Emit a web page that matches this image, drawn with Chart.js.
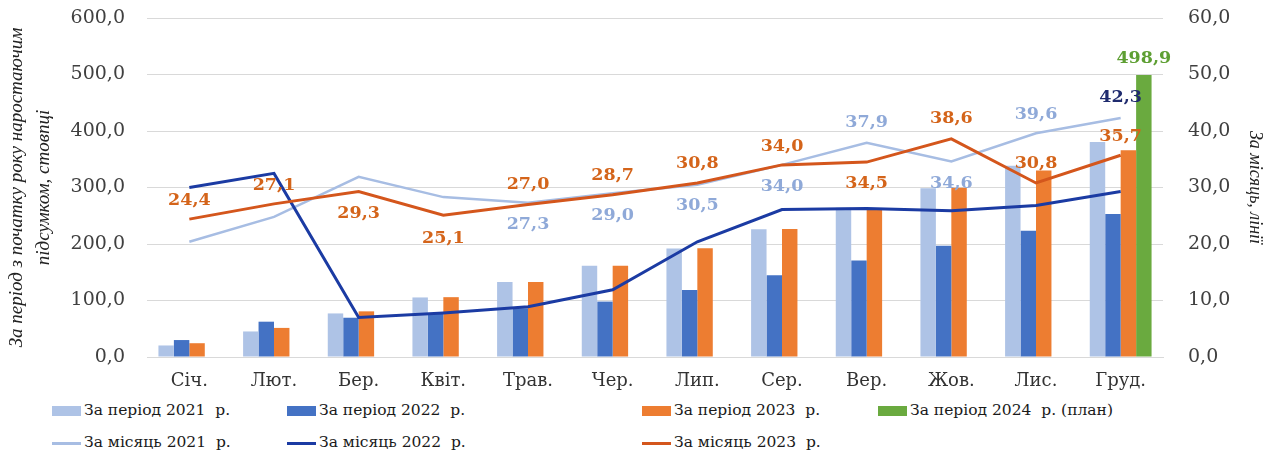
<!DOCTYPE html>
<html lang="uk">
<head>
<meta charset="utf-8">
<script src="https://cdn.jsdelivr.net/npm/chart.js@4.4.1/dist/chart.umd.min.js"></script>
<style>
  html, body { margin: 0; padding: 0; background: #fff; }
  #wrap { position: relative; width: 1280px; height: 455px; overflow: hidden; }
  #chart { position: absolute; left: 0; top: 0; }
  .lg { position: absolute; font: 15.5px "DejaVu Serif", "Liberation Serif", serif; color: #1a1a1a; white-space: pre; height: 20px; line-height: 20px; }
  .lg span.mk { display: inline-block; width: 29px; vertical-align: middle; margin-right: 3px; }
</style>
</head>
<body>
<div id="wrap">
  <canvas id="chart" width="1280" height="395"></canvas>
  <div id="legend"></div>
</div>
<script>
const months = ['Січ.', 'Лют.', 'Бер.', 'Квіт.', 'Трав.', 'Чер.', 'Лип.', 'Сер.', 'Вер.', 'Жов.', 'Лис.', 'Груд.'];

// наростаючим підсумком (ліва вісь)
const period2021 = [20.4, 45.2, 77.1, 105.4, 132.7, 161.7, 192.2, 226.2, 264.1, 298.7, 338.3, 380.6];
const period2022 = [30.0, 62.5, 69.5, 77.3, 86.2, 98.1, 118.5, 144.6, 170.9, 196.8, 223.6, 252.9];
const period2023 = [24.4, 51.5, 80.8, 105.9, 132.9, 161.6, 192.4, 226.4, 260.9, 299.5, 330.3, 366.0];
const period2024 = [null, null, null, null, null, null, null, null, null, null, null, 498.9];

// за місяць (права вісь)
const month2021 = [20.4, 24.8, 31.9, 28.3, 27.3, 29.0, 30.5, 34.0, 37.9, 34.6, 39.6, 42.3];
const month2022 = [30.0, 32.5, 7.0, 7.8, 8.9, 11.9, 20.4, 26.1, 26.3, 25.9, 26.8, 29.3];
const month2023 = [24.4, 27.1, 29.3, 25.1, 27.0, 28.7, 30.8, 34.0, 34.5, 38.6, 30.8, 35.7];

const leftTicks = { min: 0, max: 600, step: 100 };
const rightTicks = { min: 0, max: 60, step: 10 };

const SERIF = '"DejaVu Serif", "Liberation Serif", serif';
const TITLE_FONT = '"Liberation Serif", "Times New Roman", serif';
const fmt = v => v.toFixed(1).replace('.', ',');

// підписи значень: зсув по вертикалі для кожної точки (null - без підпису)
const labelStyle = {
  3: { color: '#5E9F33', dy: [null, null, null, null, null, null, null, null, null, null, null, -17] },
  4: { color: '#8FA9D8', colors: { 11: '#1F2B6E' },
       dy: [null, null, null, null, 22, 22, 21, 22, -20, 22, -19, -21] },
  6: { color: '#D4641A', dy: [-19, -18, 22, 23, -20, -19, -20, -18, 21, -20, -20, -19] }
};

const valueLabels = {
  id: 'valueLabels',
  afterDatasetsDraw(chart) {
    const ctx = chart.ctx;
    ctx.save();
    ctx.textAlign = 'center';
    ctx.textBaseline = 'middle';
    ctx.font = 'bold 17.5px ' + SERIF;
    Object.keys(labelStyle).forEach(k => {
      const di = +k, st = labelStyle[k];
      const ds = chart.data.datasets[di];
      chart.getDatasetMeta(di).data.forEach((el, i) => {
        if (ds.data[i] == null || st.dy[i] == null) return;
        ctx.fillStyle = (st.colors && st.colors[i]) || st.color;
        ctx.fillText(fmt(ds.data[i]), el.x, el.y + st.dy[i]);
      });
    });
    ctx.restore();
  }
};

const noPad = s => { s.paddingTop = 0; s.paddingBottom = 0; };

const ctx = document.getElementById('chart').getContext('2d');
const chart = new Chart(ctx, {
  type: 'bar',
  data: {
    labels: months,
    datasets: [
      { type: 'bar', label: 'За період 2021  р.', data: period2021, backgroundColor: '#AEC3E6', yAxisID: 'y', order: 10 },
      { type: 'bar', label: 'За період 2022  р.', data: period2022, backgroundColor: '#4472C4', yAxisID: 'y', order: 10 },
      { type: 'bar', label: 'За період 2023  р.', data: period2023, backgroundColor: '#ED7D31', yAxisID: 'y', order: 10 },
      { type: 'bar', label: 'За період 2024  р. (план)', data: period2024, backgroundColor: '#6AAA3F', yAxisID: 'y', order: 10 },
      { type: 'line', label: 'За місяць 2021  р.', data: month2021, borderColor: '#A7BDE3', borderWidth: 2.5, yAxisID: 'y1', order: 3 },
      { type: 'line', label: 'За місяць 2022  р.', data: month2022, borderColor: '#1B3BA3', borderWidth: 3, yAxisID: 'y1', order: 2 },
      { type: 'line', label: 'За місяць 2023  р.', data: month2023, borderColor: '#D4561C', borderWidth: 3, yAxisID: 'y1', order: 1 }
    ]
  },
  options: {
    responsive: false,
    animation: false,
    layout: { padding: { top: 18, left: 0, right: 0, bottom: 0 } },
    datasets: {
      bar: { categoryPercentage: 0.73, barPercentage: 1.0 },
      line: { pointRadius: 0, tension: 0, fill: false }
    },
    plugins: { legend: { display: false }, tooltip: { enabled: false } },
    scales: {
      x: {
        grid: { display: false, drawTicks: false },
        border: { color: '#D9D9D9' },
        ticks: { color: '#333', padding: 14, font: { family: SERIF, size: 18 } },
        afterFit: s => { s.height = 38; }
      },
      y: {
        position: 'left',
        min: leftTicks.min, max: leftTicks.max,
        ticks: { stepSize: leftTicks.step, color: '#404040', padding: 22, callback: v => fmt(v),
                 font: { family: SERIF, size: 19 } },
        grid: { color: '#D9D9D9', drawTicks: false },
        border: { display: false },
        title: { display: true, text: ['За період з початку року наростаючим', 'підсумком, стовпці'],
                 color: '#222', padding: { top: 4, bottom: 0 },
                 font: { family: TITLE_FONT, size: 19, style: 'italic', lineHeight: 1.42 } },
        afterFit: s => { s.width = 147; noPad(s); }
      },
      y1: {
        position: 'right',
        min: rightTicks.min, max: rightTicks.max,
        ticks: { stepSize: rightTicks.step, color: '#404040', padding: 25, callback: v => fmt(v),
                 font: { family: SERIF, size: 19 } },
        grid: { display: false, drawTicks: false },
        border: { display: false },
        title: { display: true, text: 'За місяць, лінії', color: '#222', padding: { top: 14, bottom: 0 },
                 font: { family: TITLE_FONT, size: 18, style: 'italic' } },
        afterFit: s => { s.width = 117; noPad(s); }
      }
    }
  },
  plugins: [valueLabels]
});

// легенда: 4 колонки, 2 рядки, як у вихідному рисунку
const legendCols = [52, 287, 642, 878];
const legendRows = [400, 432];
const legendSlots = [[0, 0], [0, 1], [0, 2], [0, 3], [1, 0], [1, 1], [1, 2]];
const legendEl = document.getElementById('legend');
chart.data.datasets.forEach((ds, i) => {
  const [r, c] = legendSlots[i];
  const item = document.createElement('div');
  item.className = 'lg';
  item.style.left = legendCols[c] + 'px';
  item.style.top = legendRows[r] + 'px';
  const mk = document.createElement('span');
  mk.className = 'mk';
  if (ds.type === 'bar') {
    mk.style.height = '10px';
    mk.style.background = ds.backgroundColor;
  } else {
    mk.style.height = '3px';
    mk.style.background = ds.borderColor;
  }
  item.appendChild(mk);
  item.appendChild(document.createTextNode(ds.label));
  legendEl.appendChild(item);
});
</script>
</body>
</html>
